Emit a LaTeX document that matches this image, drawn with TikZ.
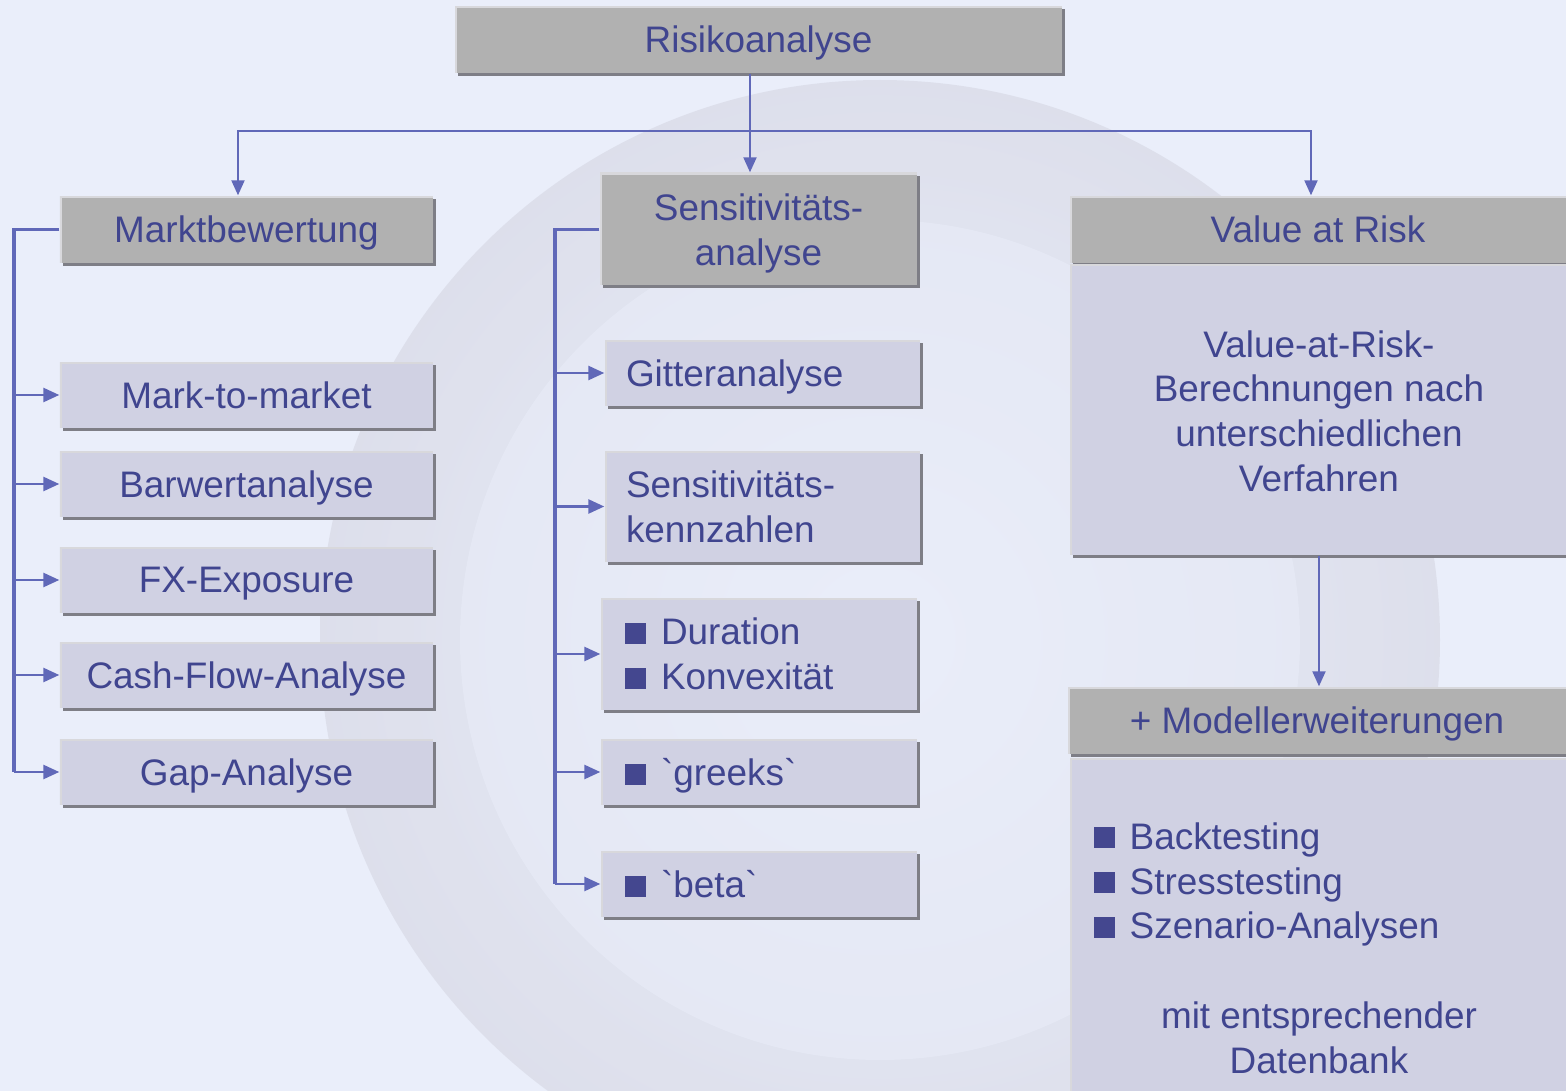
\documentclass[tikz,border=0pt]{standalone}
\usepackage{fontspec}
\setmainfont{Liberation Sans}
\usepackage{tikz}
\usetikzlibrary{arrows.meta,shadows}

\definecolor{bgblue}{HTML}{EAEEFA}
\definecolor{headgray}{HTML}{B1B1B1}
\definecolor{itemlila}{HTML}{D0D1E3}
\definecolor{txtblue}{HTML}{40458F}
\definecolor{linkblue}{HTML}{6068B8}
\definecolor{sqblue}{HTML}{44478F}
\definecolor{shadegray}{HTML}{7E7E86}
\definecolor{litegray}{HTML}{D8D8DC}

\newcommand{\bsq}{\textcolor{sqblue}{\rule[0.05ex]{0.21cm}{0.21cm}}\hspace{0.15cm}}

\tikzset{
  box/.style={inner sep=0pt, text=txtblue, font=\fontsize{10.5}{12.7}\selectfont,
    drop shadow={shadow xshift=0.03cm, shadow yshift=-0.03cm, fill=shadegray, opacity=1},
    path picture={\draw[litegray, line width=1.2pt]
      (path picture bounding box.south west) |- (path picture bounding box.north east);}},
  head/.style={box, fill=headgray},
  item/.style={box, fill=itemlila},
  oneline/.style={text depth=0pt},
  lefttext/.style={align=left, inner xsep=0.21cm},
  bullettext/.style={align=left, inner xsep=0.24cm},
  plaintext/.style={text=txtblue, font=\fontsize{10.5}{12.7}\selectfont},
  conn/.style={draw=linkblue, line width=0.6pt},
  arr/.style={conn, -{Triangle[length=0.15cm, width=0.13cm]}},
  sidearr/.style={draw=linkblue, line width=0.75pt, -{Triangle[length=0.16cm, width=0.14cm]}},
  bracket/.style={draw=linkblue, line width=1pt}
}

\begin{document}
\begin{tikzpicture}
  \useasboundingbox (0,0) rectangle (15.66,-10.91);
  \clip (0,0) rectangle (15.66,-10.91);
  \fill[bgblue] (0,0) rectangle (15.66,-10.91);
  % faded sphere in the background
  \shade[inner color=bgblue, outer color=litegray!40!itemlila, opacity=0.55] (8.8,-6.4) circle (5.6);
  \fill[bgblue, opacity=0.5] (8.8,-6.4) circle (4.2);

  % top
  \node[head, oneline, minimum width=6.07cm, minimum height=0.67cm] (risk) at (7.585,-0.395) {Risikoanalyse};

  % left column
  \node[head, oneline, minimum width=3.73cm, minimum height=0.67cm] (markt) at (2.465,-2.295) {Marktbewertung};
  \node[item, oneline, minimum width=3.73cm, minimum height=0.66cm] (mtm) at (2.465,-3.95) {Mark-to-market};
  \node[item, oneline, minimum width=3.73cm, minimum height=0.66cm] (bar) at (2.465,-4.84) {Barwertanalyse};
  \node[item, oneline, minimum width=3.73cm, minimum height=0.66cm] (fx) at (2.465,-5.80) {FX-Exposure};
  \node[item, oneline, minimum width=3.73cm, minimum height=0.66cm] (cf) at (2.465,-6.75) {Cash-Flow-Analyse};
  \node[item, oneline, minimum width=3.73cm, minimum height=0.66cm] (gap) at (2.465,-7.72) {Gap-Analyse};

  % middle column
  \node[head, minimum width=3.17cm, minimum height=1.12cm, text width=3.17cm, text height=0.36cm, align=center] (sens) at (7.585,-2.29) {Sensitivitäts-\\analyse};
  \node[item, oneline, lefttext, text width=2.73cm, minimum height=0.66cm] (gitter) at (7.625,-3.73) {Gitteranalyse};
  \node[item, lefttext, text width=2.73cm, minimum height=1.11cm] (kenn) at (7.625,-5.065) {Sensitivitäts-\\kennzahlen};
  \node[item, bullettext, text width=2.68cm, minimum height=1.12cm] (dur) at (7.59,-6.54) {\bsq Duration\\\bsq Konvexität};
  \node[item, oneline, bullettext, text width=2.68cm, minimum height=0.66cm] (greeks) at (7.59,-7.72) {\bsq \textasciigrave greeks\textasciigrave};
  \node[item, oneline, bullettext, text width=2.68cm, minimum height=0.66cm] (beta) at (7.59,-8.84) {\bsq \textasciigrave beta\textasciigrave};

  % right column
  \node[head, oneline, minimum width=5.1cm, minimum height=0.67cm] (var) at (13.25,-2.295) {\hspace{-0.14cm}Value at Risk};
  \node[item, minimum width=5.1cm, minimum height=2.91cm] (varbody) at (13.25,-4.095) {};
  \node[plaintext, align=center] (vartext) at (13.19,-4.11)
    {Value-at-Risk-\\Berechnungen nach\\unterschiedlichen\\Verfahren};
  \node[head, oneline, minimum width=5.12cm, minimum height=0.67cm] (mod) at (13.24,-7.205) {\hspace{-0.14cm}+ Modellerweiterungen};
  \node[item, minimum width=5.1cm, minimum height=3.42cm] (modbody) at (13.25,-9.29) {};
  \node[plaintext, align=left, anchor=north west, inner sep=0pt] (modlist) at (10.93,-8.22)
    {\bsq Backtesting\\\bsq Stresstesting\\\bsq Szenario-Analysen};
  \node[plaintext, align=center] (modtext) at (13.19,-10.38)
    {mit entsprechender\\Datenbank};

  % connectors
  \coordinate (tj) at (7.5,-1.31);
  \draw[conn] (tj |- risk.south) -- (tj);
  \draw[arr] (tj) -- (tj |- sens.north);
  \draw[arr] (tj) -| ([xshift=-0.085cm]markt.north);
  \draw[arr] (tj) -| ([xshift=-0.14cm]var.north);

  \coordinate (lb) at (0.14,-7.72);
  \draw[bracket] (markt.west) -| (lb);
  \foreach \n in {mtm,bar,fx,cf,gap}
    \draw[sidearr] (lb |- \n.west) -- (\n.west);

  \coordinate (mb) at (5.55,-8.84);
  \draw[bracket] (sens.west |- markt.west) -| (mb);
  \foreach \n in {gitter,kenn,dur,greeks,beta}
    \draw[sidearr] (mb |- \n.west) -- (\n.west);

  \draw[arr] ([xshift=-0.06cm]varbody.south) -- ([xshift=-0.06cm]varbody.south |- mod.north);
\end{tikzpicture}
\end{document}
